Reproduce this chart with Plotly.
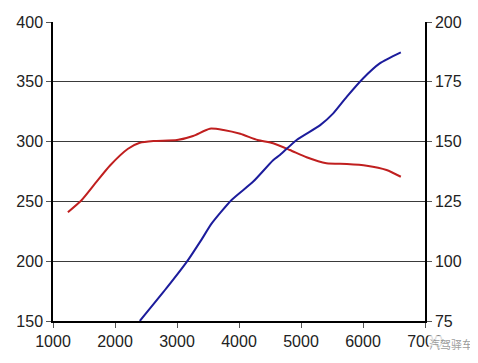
import plotly.graph_objects as go

# Torque curve (left axis)
torque_rpm = [1240, 1460, 1680, 1920, 2210, 2400, 2620, 3000, 3260, 3530, 3750, 4020,
              4300, 4550, 4820, 5090, 5410, 5740, 6060, 6380, 6610]
torque_val = [241, 251, 265, 280, 294, 299, 300.5, 301.3, 304.7, 310.8, 309.7, 306.5,
              301.3, 298.6, 293, 286.9, 281.9, 281.3, 279.9, 276.3, 270.6]

# Power curve (right axis)
power_rpm = [2400, 2830, 3160, 3390, 3560, 3880, 4230, 4550, 4660, 4930, 5310, 5520,
             5740, 6000, 6270, 6610]
power_val = [75, 88.7, 99.8, 108.8, 115.8, 125.6, 133.3, 142.2, 144.4, 150.7, 156.9,
             161.8, 168.8, 176.4, 182.7, 187.3]

x_ticks = [1000, 2000, 3000, 4000, 5000, 6000, 7000]
left_ticks = [150, 200, 250, 300, 350, 400]
right_ticks = [75, 100, 125, 150, 175, 200]

fnt = dict(family="Liberation Sans, Arial, sans-serif", size=16, color="#222222")

fig = go.Figure()
fig.add_trace(go.Scatter(x=torque_rpm, y=torque_val, mode="lines",
                         line=dict(color="#c01f1f", width=2, shape="spline", smoothing=0.6),
                         showlegend=False))
fig.add_trace(go.Scatter(x=power_rpm, y=power_val, mode="lines", yaxis="y2",
                         line=dict(color="#1c1c9c", width=2, shape="spline", smoothing=0.6),
                         showlegend=False))

# page body has an 8px margin, so the figure is offset by 8px right and down
fig.update_layout(
    width=470, height=355,
    margin=dict(l=45, r=53, t=14, b=42),
    paper_bgcolor="white", plot_bgcolor="white",
    font=fnt,
    xaxis=dict(range=[1000, 7000], tickvals=x_ticks, ticks="outside", ticklen=5,
               tickcolor="#555", showline=True, linecolor="black", linewidth=1.5,
               showgrid=False, zeroline=False, tickfont=fnt, automargin=False),
    yaxis=dict(range=[150, 400], tickvals=left_ticks, ticks="outside", ticklen=5,
               tickcolor="#555", showline=True, linecolor="black", linewidth=1.5,
               showgrid=True, gridcolor="#3a3a3a", gridwidth=1, zeroline=False,
               tickfont=fnt, automargin=False),
    yaxis2=dict(range=[75, 200], tickvals=right_ticks, ticks="outside", ticklen=5,
                tickcolor="#555", overlaying="y", side="right", showline=True,
                linecolor="black", linewidth=1.5, showgrid=False, zeroline=False,
                tickfont=fnt, automargin=False),
)

fig.add_annotation(text="汽驾驿车", x=1.0, y=0, xref="paper", yref="paper",
                   xanchor="left", yanchor="middle", yshift=-23, xshift=3,
                   showarrow=False, bgcolor="rgba(255,255,255,0.85)", borderpad=0,
                   font=dict(family="Noto Sans CJK SC", size=11, color="rgba(110,110,110,0.7)"))

fig.write_html("out.html")
